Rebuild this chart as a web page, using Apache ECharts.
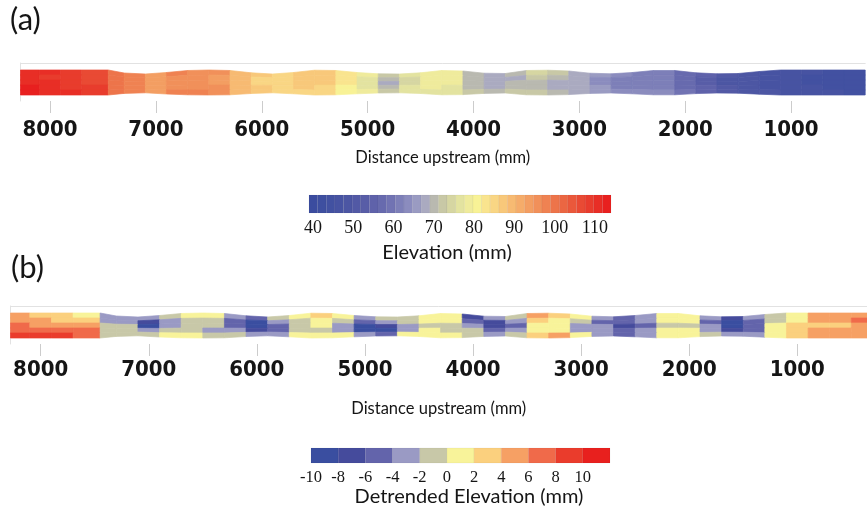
<!DOCTYPE html>
<html><head><meta charset="utf-8">
<script src="https://cdn.jsdelivr.net/npm/echarts@6/dist/echarts.min.js"></script>
<style>html,body{margin:0;padding:0;background:#fff}#c{width:867px;height:511px}</style>
</head><body><div id="c"></div>
<script>
// ---- data ----
// distance (mm) of the column edges along the channel
const xEdges = [8280,8100,7900,7700,7450,7300,7100,6900,6700,6500,6300,6100,5900,5700,5500,5300,5100,4900,4700,4500,4300,4100,3900,3700,3500,3300,3100,2900,2700,2500,2300,2100,1900,1700,1500,1300,1100,900,700,500,300];
// lateral position of the channel banks at each edge
const topEdge = [310,310,310,310,310,280,270,285,305,310,305,282,270,285,308,305,285,272,270,282,305,300,278,275,305,308,300,278,272,285,305,305,282,272,275,295,310,310,310,310,310];
const bottomEdge = [60,60,60,60,60,76,82,70,62,60,62,75,82,72,60,62,72,80,82,75,62,64,76,80,62,60,64,76,80,72,62,62,74,80,78,68,60,60,60,60,60];
// elevation (mm), rows from top bank to bottom bank, one value per column
const elevRow0 = [107,106,104,103,97,95,91,94,93,92,87,84,82,84,85,80,76,70,74,77,77,69,67,68,73,70,66,64,62,61,61,57,54,50,48,47,46,46,45,45];
const elevRow1 = [106,105,104,102,96,94,90,93,92,91,86,83,82,85,85,80,75,68,73,77,77,68,66,67,70,68,66,63,61,60,60,56,53,49,48,47,46,45,45,44];
const elevRow2 = [107,106,105,103,96,94,90,92,92,91,86,83,82,85,84,80,74,67,73,77,76,68,66,68,68,67,66,63,61,60,60,56,53,49,48,46,46,45,44,44];
const elevRow3 = [108,107,105,104,97,95,91,93,93,92,87,84,83,84,83,79,75,69,74,76,75,69,67,69,68,67,67,64,61,61,61,57,54,50,49,47,47,46,45,45];
const elevRow4 = [108,107,106,104,97,95,91,94,94,92,87,85,83,82,82,78,76,71,75,75,74,70,68,70,71,69,67,64,62,62,62,58,55,51,49,48,47,46,46,45];
// detrended elevation (mm)
const detrRow0 = [5,3,3,1,-3,-3,-3,-1,1,1,-3,-5,-1,1,3,1,-3,-1,-1,1,1,-7,-3,-1,5,3,1,-3,-5,-3,1,1,-3,-7,-3,-1,1,5,5,5];
const detrRow1 = [5,5,3,3,-3,-3,-7,-3,-1,-1,-5,-9,-3,-1,1,-1,-5,-3,-1,1,1,-5,-7,-3,3,1,-1,-5,-5,-3,1,1,-5,-9,-5,-1,1,5,5,7];
const detrRow2 = [7,5,5,5,-1,-1,-9,-3,-1,-1,-5,-9,-5,-1,1,-3,-9,-7,-3,-1,-1,-3,-7,-5,1,1,-3,-3,-7,-5,-1,-1,-3,-9,-5,1,3,3,3,5];
const detrRow3 = [7,7,7,7,-1,-1,-3,-1,-1,-3,-3,-7,-5,-1,-1,-3,-9,-9,-3,1,-1,-1,-5,-3,1,1,-3,-3,-5,-3,1,1,-3,-7,-5,1,3,5,5,5];
const detrRow4 = [9,9,9,7,-1,-1,-1,1,1,-1,-1,-3,-3,1,1,1,-3,-5,1,1,1,-1,-3,-1,3,5,1,-3,-5,-3,1,1,-1,-3,-3,1,3,5,5,5];
// colour scales
const elevBinEdges = [40,42,44,46,48,50,52,54,56,58,60,62,64,66,68,70,72,74,76,78,80,82,84,86,88,90,92,94,96,98,100,102,104,106,108,110];
const elevColors = ['#3b4c9f','#3e4fa0','#4251a1','#4753a2','#4c56a3','#5259a5','#585da7','#5f62aa','#676aae','#7173b3','#7d7fb8','#8b8cbe','#9a9bc2','#aaaac0','#b9b9b0','#c8c8a6','#d6d6a2','#e3e3a0','#efeb9c','#f8f296','#f9e48e','#f9d684','#f8c87a','#f7ba72','#f5ac6a','#f39e62','#f1905a','#ef8252','#ed744a','#eb6642','#ea583b','#e94a34','#e83c2d','#e82e26','#e8201f'];
const elevTicks = [40,50,60,70,80,90,100,110];
const detrBinEdges = [-10,-8,-6,-4,-2,0,2,4,6,8,10,12];
const detrColors = ['#3a4ea0','#454b9c','#6364ab','#9a9ac4','#c8c8a8','#f8f39a','#fbd07e','#f6a064','#f06a4a','#ea3c2c','#e8201e'];
const detrTicks = [-10,-8,-6,-4,-2,0,2,4,6,8,10];
const distTicks = [8000,7000,6000,5000,4000,3000,2000,1000];

// ---- build ----
const elevRows = [elevRow0,elevRow1,elevRow2,elevRow3,elevRow4];
const detrRows = [detrRow0,detrRow1,detrRow2,detrRow3,detrRow4];
function cells(rows){
  const out=[];
  rows.forEach((row,r)=>row.forEach((v,c)=>out.push([c,r,v])));
  return out;
}
function bins(edges){
  const out=[];
  for(let i=0;i<edges.length-1;i++) out.push([edges[i],edges[i+1],(edges[i]+edges[i+1])/2]);
  return out;
}
function pieces(edges,colors){
  return colors.map((col,i)=>({gte:edges[i],lt:edges[i+1],color:col}));
}
function renderCell(nRows){
  return function(params, api){
    const c=api.value(0), r=api.value(1);
    const x0=xEdges[c], x1=xEdges[c+1];
    const t0=topEdge[c], b0=bottomEdge[c], t1=topEdge[c+1], b1=bottomEdge[c+1];
    const f0=r/nRows, f1=(r+1)/nRows;
    const pts=[
      api.coord([x0, t0-(t0-b0)*f0]),
      api.coord([x1, t1-(t1-b1)*f0]),
      api.coord([x1, t1-(t1-b1)*f1]),
      api.coord([x0, t0-(t0-b0)*f1])
    ];
    const col=api.visual('color');
    return {type:'polygon', shape:{points:pts}, style:{fill:col, stroke:col, lineWidth:0.7}};
  };
}
function renderBin(params, api){
  const p0=api.coord([api.value(0),1]);
  const p1=api.coord([api.value(1),0]);
  const col=api.visual('color');
  return {type:'rect', shape:{x:p0[0],y:p0[1],width:p1[0]-p0[0],height:p1[1]-p0[1]},
    style:{fill:col, stroke:'rgba(0,0,0,0.08)', lineWidth:0.5}};
}

const frameCol='#e2e2e2';
const tickFont={fontFamily:'"Liberation Sans Narrow","DejaVu Sans Condensed",sans-serif',fontWeight:'bold',fontSize:22,color:'#151515',formatter:v=>String(v)};
const nameFont={fontFamily:'Lato,"Open Sans",sans-serif',fontSize:16.5,color:'#151515'};
const serifA={fontFamily:'"Liberation Serif","DejaVu Serif",serif',fontSize:18,color:'#151515',formatter:v=>String(v)};
const serifB={fontFamily:'"Liberation Serif","DejaVu Serif",serif',fontSize:16.5,color:'#151515',formatter:v=>String(v)};

function distAxis(grid,min,margin,nameGap){
  return {type:'value',gridIndex:grid,min:min,max:8280,inverse:true,position:'bottom',
    axisLine:{show:false},
    axisTick:{show:true,length:12,inside:false,customValues:distTicks,lineStyle:{color:'#cccccc',width:1}},
    axisLabel:{customValues:distTicks,margin:margin,...tickFont},
    splitLine:{show:false},
    name:'Distance upstream (mm)',nameLocation:'middle',nameGap:nameGap,nameTextStyle:nameFont};
}
function topLine(grid,min){
  return {type:'value',gridIndex:grid,min:min,max:8280,inverse:true,position:'top',
    axisLine:{show:true,lineStyle:{color:frameCol,width:1}},axisTick:{show:false},axisLabel:{show:false},splitLine:{show:false}};
}
function sideAxis(grid){
  return {type:'value',gridIndex:grid,min:0,max:380,
    axisLine:{show:true,lineStyle:{color:frameCol,width:1}},axisTick:{show:false},axisLabel:{show:false},splitLine:{show:false}};
}

const option={
  animation:false,
  backgroundColor:'#fff',
  grid:[
    {left:20.4,top:63,width:844.8,height:38},
    {left:10.4,top:306,width:856.6,height:38},
    {left:309,top:195,width:302,height:18},
    {left:311,top:448,width:299,height:15}
  ],
  xAxis:[
    distAxis(0,300,18,48),
    topLine(0,300),
    distAxis(1,355,15,56),
    topLine(1,355),
    {type:'value',gridIndex:2,min:40,max:110,show:false},
    {type:'value',gridIndex:2,min:39,max:114,position:'bottom',axisLine:{show:false},axisTick:{show:false},splitLine:{show:false},
      axisLabel:{customValues:elevTicks,margin:6,...serifA}},
    {type:'value',gridIndex:3,min:-10,max:12,position:'bottom',axisLine:{show:false},axisTick:{show:false},splitLine:{show:false},
      axisLabel:{customValues:detrTicks,margin:6,...serifB}}
  ],
  yAxis:[
    sideAxis(0),
    sideAxis(1),
    {type:'value',gridIndex:2,min:0,max:1,show:false},
    {type:'value',gridIndex:3,min:0,max:1,show:false}
  ],
  visualMap:[
    {type:'piecewise',show:false,dimension:2,seriesIndex:[0,2],pieces:pieces(elevBinEdges,elevColors)},
    {type:'piecewise',show:false,dimension:2,seriesIndex:[1,3],pieces:pieces(detrBinEdges,detrColors)}
  ],
  series:[
    {type:'custom',xAxisIndex:0,yAxisIndex:0,clip:true,renderItem:renderCell(elevRows.length),data:cells(elevRows),silent:true},
    {type:'custom',xAxisIndex:2,yAxisIndex:1,clip:true,renderItem:renderCell(detrRows.length),data:cells(detrRows),silent:true},
    {type:'custom',xAxisIndex:4,yAxisIndex:2,renderItem:renderBin,data:bins(elevBinEdges),silent:true},
    {type:'custom',xAxisIndex:6,yAxisIndex:3,renderItem:renderBin,data:bins(detrBinEdges),silent:true}
  ],
  graphic:[
    {type:'text',left:10,top:4,style:{text:'(a)',font:'31px Lato, "Open Sans", sans-serif',fill:'#151515'}},
    {type:'text',left:11,top:252,style:{text:'(b)',font:'31px Lato, "Open Sans", sans-serif',fill:'#151515'}},
    {type:'text',x:447,y:253,style:{text:'Elevation (mm)',font:'20px Lato, "Open Sans", sans-serif',fill:'#151515',align:'center',verticalAlign:'middle'}},
    {type:'text',x:469,y:497,style:{text:'Detrended Elevation (mm)',font:'20px Lato, "Open Sans", sans-serif',fill:'#151515',align:'center',verticalAlign:'middle'}}
  ]
};
const chart=echarts.init(document.getElementById('c'),null,{renderer:'canvas'});
chart.setOption(option);
</script>
</body></html>
